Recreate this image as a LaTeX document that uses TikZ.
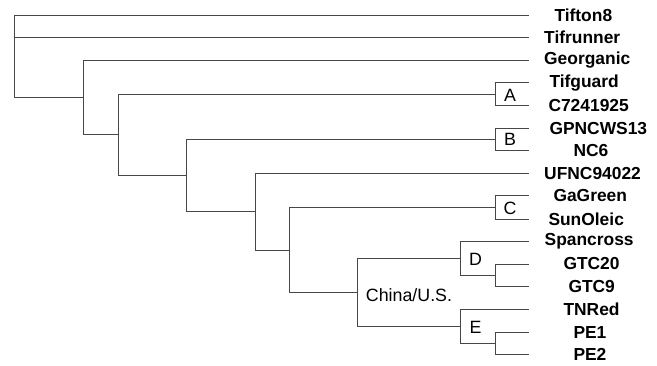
\documentclass[tikz,border=0pt]{standalone}
\usepackage{fontspec}
\setmainfont{Liberation Sans}
\begin{document}
\begin{tikzpicture}[x=1pt,y=-1pt,
  br/.style={draw=black!72,line width=0.9pt},
  leaf/.style={anchor=west,inner sep=0pt,font=\bfseries\fontsize{17.4}{19}\selectfont},
  clade/.style={inner sep=0pt,font=\fontsize{17.8}{20}\selectfont}]
\path[use as bounding box] (0,0) rectangle (657,366);
% leaf ends
\foreach \i/\y in {1/15,2/37.3,3/60.3,4/82.7,5/105.3,6/128.3,7/150.7,8/173.3,9/195.7,10/219,11/241.5,12/264,13/286.7,14/309.3,15/332.7,16/354.7}
  \coordinate (e\i) at (529.3,\y);
% internal nodes
\coordinate (root) at (14.5,56);
\coordinate (n1) at (83,97.3);
\coordinate (n2) at (118,134.5);
\coordinate (nA) at (495,94);
\coordinate (n3) at (186,175.3);
\coordinate (nB) at (495,139.5);
\coordinate (n4) at (255,211.7);
\coordinate (n5) at (289,250);
\coordinate (nC) at (495,207.3);
\coordinate (nCU) at (357.3,292.3);
\coordinate (nD) at (460,258.4);
\coordinate (nDD) at (495,275.3);
\coordinate (nE) at (460,326.5);
\coordinate (nEE) at (495,343.7);
% branches
\draw[br] (root) |- (e1);
\draw[br] (root) |- (e2);
\draw[br] (root) |- (n1);
\draw[br] (n1) |- (e3);
\draw[br] (n1) |- (n2);
\draw[br] (n2) |- (nA);
\draw[br] (n2) |- (n3);
\draw[br] (nA) |- (e4);
\draw[br] (nA) |- (e5);
\draw[br] (n3) |- (nB);
\draw[br] (n3) |- (n4);
\draw[br] (nB) |- (e6);
\draw[br] (nB) |- (e7);
\draw[br] (n4) |- (e8);
\draw[br] (n4) |- (n5);
\draw[br] (n5) |- (nC);
\draw[br] (n5) |- (nCU);
\draw[br] (nC) |- (e9);
\draw[br] (nC) |- (e10);
\draw[br] (nCU) |- (nD);
\draw[br] (nCU) |- (nE);
\draw[br] (nD) |- (e11);
\draw[br] (nD) |- (nDD);
\draw[br] (nDD) |- (e12);
\draw[br] (nDD) |- (e13);
\draw[br] (nE) |- (e14);
\draw[br] (nE) |- (nEE);
\draw[br] (nEE) |- (e15);
\draw[br] (nEE) |- (e16);
% leaf labels
\node[leaf] (L1) at (554.3,15) {Tifton8};
\node[leaf] (L2) at (544,37.3) {Tifrunner};
\node[leaf] (L3) at (544,60.3) {Georganic};
\node[leaf] (L4) at (549.3,82.7) {Tifguard};
\node[leaf] (L5) at (548.3,105.3) {C7241925};
\node[leaf] (L6) at (549.3,128.3) {GPNCWS13};
\node[leaf] (L7) at (573.3,150.7) {NC6};
\node[leaf] (L8) at (544,173.3) {UFNC94022};
\node[leaf] (L9) at (553.3,195.7) {GaGreen};
\node[leaf] (L10) at (548.3,219) {SunOleic};
\node[leaf] (L11) at (544.5,241.5) {Spancross};
\node[leaf] (L12) at (563.3,264) {GTC20};
\node[leaf] (L13) at (568.3,286.7) {GTC9};
\node[leaf] (L14) at (563.3,309.3) {TNRed};
\node[leaf] (L15) at (573.3,332.7) {PE1};
\node[leaf] (L16) at (573.3,354.7) {PE2};
% clade labels
\node[clade] (cA) at (510,95) {A};
\node[clade] (cB) at (510,139.5) {B};
\node[clade] (cC) at (510,208) {C};
\node[clade] (cD) at (475.5,259) {D};
\node[clade] (cE) at (475.5,327) {E};
\node[clade] (cCU) at (409,295) {China/U.S.};
\end{tikzpicture}
\end{document}
